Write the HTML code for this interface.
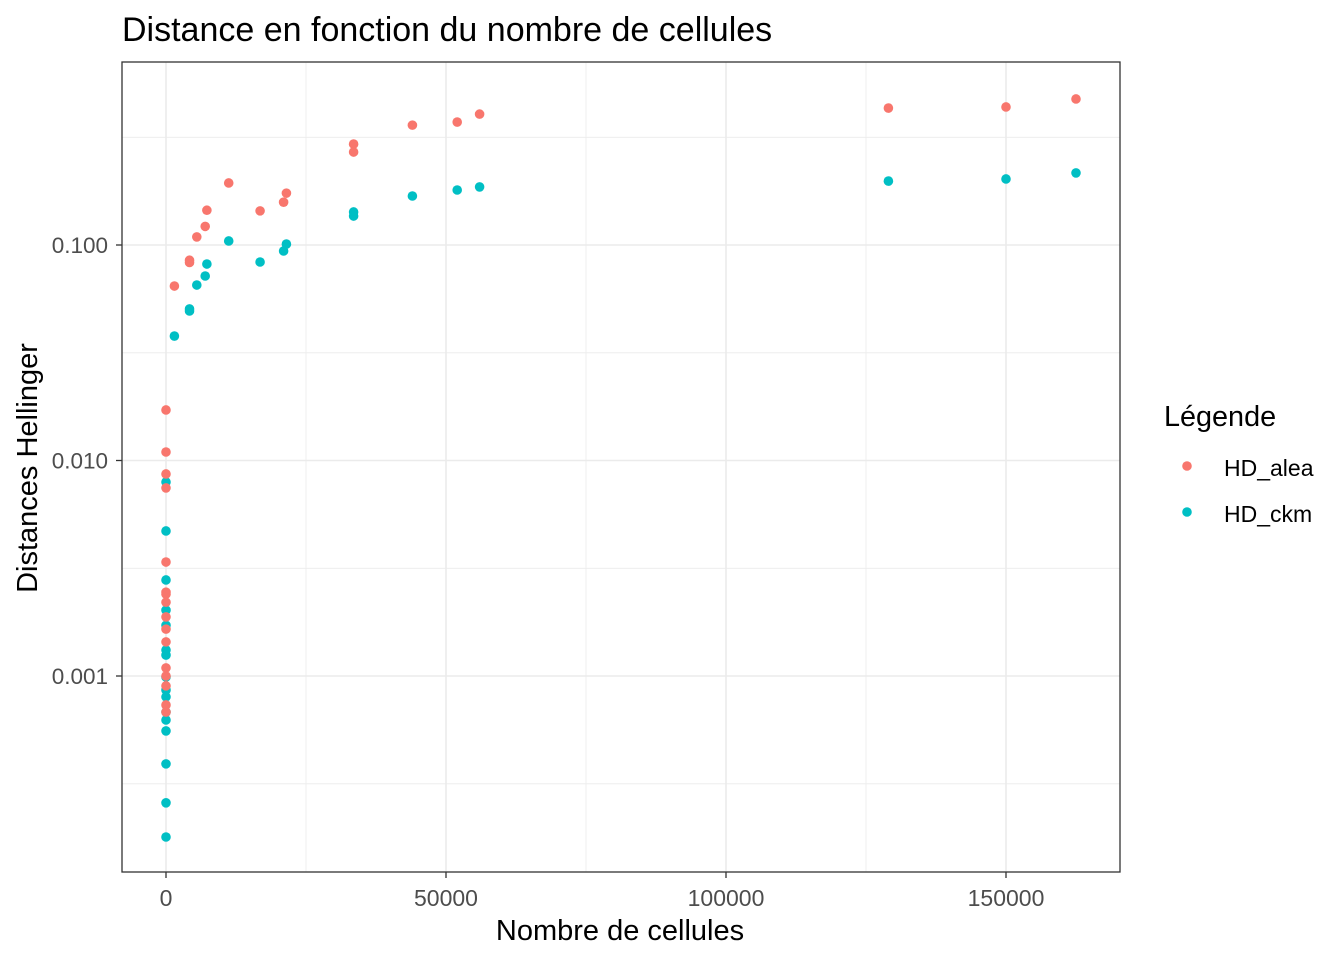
<!DOCTYPE html>
<html><head><meta charset="utf-8"><style>
body{margin:0;background:#fff;}
svg{display:block;font-family:"Liberation Sans",Arial,sans-serif;}
</style></head><body>
<svg id="chart" width="1344" height="960" xmlns="http://www.w3.org/2000/svg">
<rect width="1344" height="960" fill="#fff"/>
<text x="122" y="41" font-size="34" fill="#000">Distance en fonction du nombre de cellules</text>
<g id="grid"></g>
<g id="pts"></g>
<rect x="122" y="62" width="998" height="810" fill="none" stroke="#333" stroke-width="1.3"/>
<g id="axes"></g>
<text x="620" y="940" font-size="29" text-anchor="middle">Nombre de cellules</text>
<text transform="translate(37,468) rotate(-90)" font-size="29" text-anchor="middle">Distances Hellinger</text>
<g>
<text x="1164" y="426" font-size="28.8">Légende</text>
<circle cx="1187" cy="466" r="4.8" fill="#F8766D"/>
<text x="1224" y="476" font-size="23">HD_alea</text>
<circle cx="1187" cy="512" r="4.8" fill="#00BFC4"/>
<text x="1224" y="522" font-size="23">HD_ckm</text>
</g>
</svg>
<script>
const xTicks=[0,50000,100000,150000];
const xTickLabels=["0","50000","100000","150000"];
const xMinor=[25000,75000,125000];
const yTicks=[0.001,0.01,0.1];
const yTickLabels=["0.001","0.010","0.100"];
const yMinor=[0.000316,0.00316,0.0316,0.316];
const aleaX=[1500,4200,4200,5500,7000,7300,11200,16800,21000,21500,33500,33500,44000,52000,56000,129000,150000,162500,
 0,0,0,0,0,0,0,0,0,0,0,0,0,0,0,0];
const aleaY=[0.0645,0.085,0.083,0.109,0.122,0.145,0.194,0.144,0.158,0.174,0.294,0.27,0.36,0.372,0.405,0.432,0.437,0.476,
 0.01716,0.01095,0.00866,0.00746,0.00338,0.00245,0.0024,0.0022,0.00188,0.00165,0.00144,0.00109,0.001,0.0009,0.000734,0.00068];
const ckmX=[1500,4200,4200,5500,7000,7300,11200,16800,21000,21500,33500,33500,44000,52000,56000,129000,150000,162500,
 0,0,0,0,0,0,0,0,0,0,0,0,0,0,0,0];
const ckmY=[0.0378,0.0505,0.0494,0.0652,0.0718,0.0816,0.1044,0.0834,0.0938,0.101,0.1423,0.1363,0.1688,0.18,0.186,0.198,0.2025,0.216,
 0.00795,0.00471,0.00279,0.00202,0.00172,0.00132,0.00125,0.00099,0.00086,0.0008,0.00068,0.000625,0.000556,0.000391,0.000258,0.000179];
const NS="http://www.w3.org/2000/svg";
const sx=v=>166+v*280/50000;
const sy=v=>245-(Math.log10(v)+1)*215.5;
function mk(tag,attrs,parent){const e=document.createElementNS(NS,tag);for(const k in attrs)e.setAttribute(k,attrs[k]);parent.appendChild(e);return e;}
const grid=document.getElementById('grid'),pts=document.getElementById('pts'),axes=document.getElementById('axes');
xMinor.forEach(v=>{const l=mk('line',{x1:sx(v),x2:sx(v),y1:62,y2:872,stroke:'#ebebeb','stroke-width':0.8},grid);

});
yMinor.forEach(v=>{const l=mk('line',{x1:122,x2:1120,y1:sy(v),y2:sy(v),stroke:'#ebebeb','stroke-width':0.8},grid);

});
xTicks.forEach((v,i)=>{const l=mk('line',{x1:sx(v),x2:sx(v),y1:62,y2:872,stroke:'#ebebeb','stroke-width':1.6},grid);


const t=mk('line',{x1:sx(v),x2:sx(v),y1:872,y2:878,stroke:'#333','stroke-width':1.3},axes);


const tx=mk('text',{x:sx(v),y:906,'font-size':23,fill:'#4d4d4d','text-anchor':'middle'},axes);tx.textContent=xTickLabels[i];

});
yTicks.forEach((v,i)=>{const l=mk('line',{x1:122,x2:1120,y1:sy(v),y2:sy(v),stroke:'#ebebeb','stroke-width':1.6},grid);


const t=mk('line',{x1:116,x2:122,y1:sy(v),y2:sy(v),stroke:'#333','stroke-width':1.3},axes);


const tx=mk('text',{x:108,y:sy(v)+8,'font-size':22.5,fill:'#4d4d4d','text-anchor':'end'},axes);tx.textContent=yTickLabels[i];

});
function series(xs,ys,col,name){xs.forEach((x,i)=>{const c=mk('circle',{cx:sx(x),cy:sy(ys[i]),r:4.8,fill:col},pts);

});}
series(ckmX,ckmY,'#00BFC4','point-hd-ckm');
series(aleaX,aleaY,'#F8766D','point-hd-alea');
</script>
</body></html>
